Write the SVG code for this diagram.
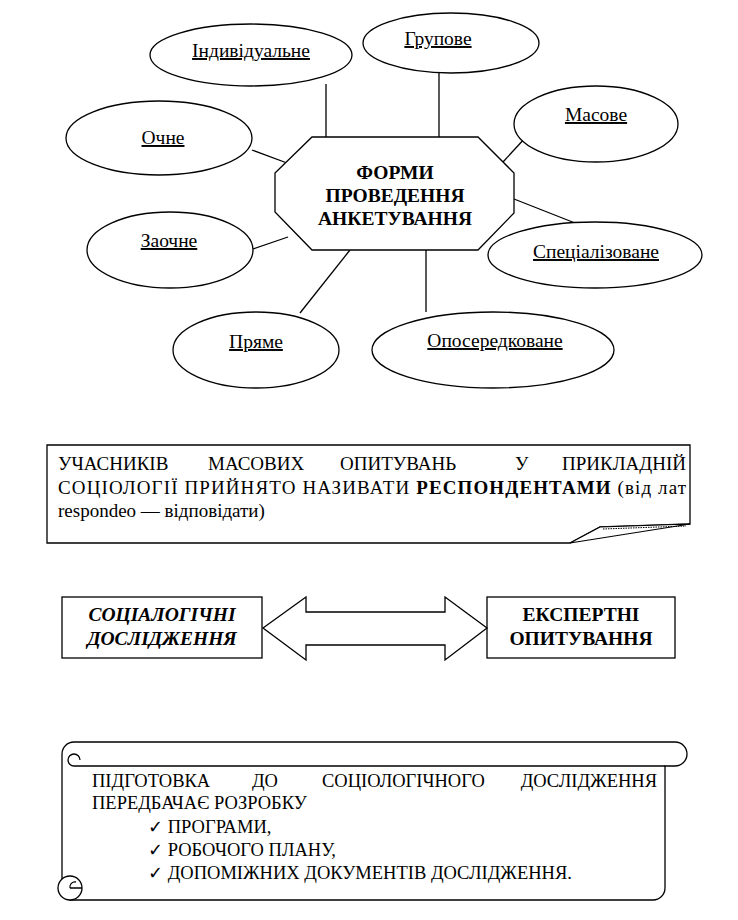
<svg xmlns="http://www.w3.org/2000/svg" width="738" height="920" viewBox="0 0 738 920" font-family="'Liberation Serif', 'DejaVu Serif', serif">
<style>
  .e { fill: #fff; stroke: #000; stroke-width: 1.3; }
  .s { fill: none; stroke: #000; stroke-width: 1.3; }
  .f { fill: #fff; stroke: #000; stroke-width: 1.3; }
  text { font-family: 'Liberation Serif', 'DejaVu Serif', serif; fill: #000; }
  .lbl { font-size: 19.5px; text-anchor: middle; text-decoration: underline; }
  .ctr { font-size: 19.5px; font-weight: bold; text-anchor: middle; }
  .t { font-size: 19px; }
  .sc { font-size: 18.5px; }
  .ck { font-family: 'DejaVu Sans', sans-serif; font-size: 18px; }
</style>
<rect width="738" height="920" fill="#fff"/>

<g id="connectors" class="s">
  <line x1="326" y1="84" x2="326" y2="137"/>
  <line x1="439" y1="72" x2="439" y2="137"/>
  <line x1="526" y1="137" x2="503" y2="162"/>
  <line x1="252" y1="150" x2="287" y2="163"/>
  <line x1="253" y1="249" x2="288" y2="237"/>
  <line x1="350" y1="250" x2="300" y2="313"/>
  <line x1="426" y1="250" x2="426" y2="312"/>
  <line x1="514" y1="199" x2="575" y2="223"/>
</g>

<g id="center">
  <polygon class="f" points="312,137 478,137 514,173 514,213 478,250 312,250 275,212 275,173"/>
  <text class="ctr" x="395" y="179">ФОРМИ</text>
  <text class="ctr" x="395" y="202">ПРОВЕДЕННЯ</text>
  <text class="ctr" x="395" y="225">АНКЕТУВАННЯ</text>
</g>

<g id="n-individ">
  <ellipse class="e" cx="251" cy="55" rx="101" ry="31"/>
  <text class="lbl" x="251" y="57">Індивідуальне</text>
</g>
<g id="n-grup">
  <ellipse class="e" cx="451" cy="43" rx="88" ry="30"/>
  <text class="lbl" x="438" y="45">Групове</text>
</g>
<g id="n-masove">
  <ellipse class="e" cx="596" cy="124" rx="82" ry="38"/>
  <text class="lbl" x="596" y="121">Масове</text>
</g>
<g id="n-ochne">
  <ellipse class="e" cx="159" cy="138" rx="93" ry="37"/>
  <text class="lbl" x="163" y="144">Очне</text>
</g>
<g id="n-zaochne">
  <ellipse class="e" cx="170" cy="250" rx="83" ry="38"/>
  <text class="lbl" x="169" y="247">Заочне</text>
</g>
<g id="n-special">
  <ellipse class="e" cx="595" cy="255" rx="107" ry="33"/>
  <text class="lbl" x="596" y="258">Спеціалізоване</text>
</g>
<g id="n-pryame">
  <ellipse class="e" cx="256" cy="350" rx="83" ry="38"/>
  <text class="lbl" x="256" y="348">Пряме</text>
</g>
<g id="n-oposer">
  <ellipse class="e" cx="493" cy="350" rx="121" ry="38"/>
  <text class="lbl" x="495" y="347">Опосередковане</text>
</g>

<g id="note-respondents">
  <path class="s" d="M 47,445 H 690 V 524 L 600,527 L 570,543 H 47 Z"/>
  <path d="M 570,543 L 600,527 L 690,524 Z" fill="#fff" stroke="#000" stroke-width="1.1"/>
  <line x1="603" y1="529" x2="686" y2="526" stroke="#000" stroke-width="1" stroke-dasharray="1.5,1"/>
  <text class="t" y="470">
    <tspan x="58">УЧАСНИКІВ</tspan>
    <tspan x="208">МАСОВИХ</tspan>
    <tspan x="340">ОПИТУВАНЬ</tspan>
    <tspan x="515">У</tspan>
  </text>
  <text class="t" x="686" y="470" text-anchor="end">ПРИКЛАДНІЙ</text>
  <text class="t" x="58" y="494" textLength="628" lengthAdjust="spacing">СОЦІОЛОГІЇ ПРИЙНЯТО НАЗИВАТИ <tspan font-weight="bold">РЕСПОНДЕНТАМИ</tspan> (від лат</text>
  <text class="t" x="58" y="517">respondeo — відповідати)</text>
</g>

<g id="n-soc">
  <rect class="f" x="62" y="597" width="200" height="61"/>
  <text class="ctr" x="162" y="621" font-style="italic">СОЦІАЛОГІЧНІ</text>
  <text class="ctr" x="162" y="645" font-style="italic">ДОСЛІДЖЕННЯ</text>
</g>
<g id="n-expert">
  <rect class="f" x="487" y="597" width="188" height="61"/>
  <text class="ctr" x="581" y="621">ЕКСПЕРТНІ</text>
  <text class="ctr" x="581" y="645">ОПИТУВАННЯ</text>
</g>
<g id="double-arrow">
  <polygon class="f" points="263,628 306,597 306,612 445,612 445,597 487,628 445,660 445,645 306,645 306,660"/>
</g>

<g id="scroll">
  <path class="f" d="M 74,742 H 675 A 12 12 0 0 1 675,766 H 665 V 888 A 12 12 0 0 1 653,900 H 70 A 12 12 0 0 1 62,888 V 754 A 12 12 0 0 1 74,742 Z"/>
  <path class="s" d="M 74,766 H 665"/>
  <path class="s" d="M 74,766 A 6 6 0 0 1 74,754 A 6 6 0 0 1 80,760"/>
  <circle class="f" cx="70" cy="888" r="12"/>
  <path class="s" d="M 70,888 A 5 5 0 0 1 76,882 M 70,888 H 82"/>
  <text class="t sc" y="787">
    <tspan x="92">ПІДГОТОВКА</tspan>
    <tspan x="252">ДО</tspan>
    <tspan x="322">СОЦІОЛОГІЧНОГО</tspan>
  </text>
  <text class="t sc" x="657" y="787" text-anchor="end">ДОСЛІДЖЕННЯ</text>
  <text class="t sc" x="92" y="809">ПЕРЕДБАЧАЄ РОЗРОБКУ</text>
  <text class="t sc" x="148" y="833"><tspan class="ck">✓</tspan> ПРОГРАМИ,</text>
  <text class="t sc" x="148" y="856"><tspan class="ck">✓</tspan> РОБОЧОГО ПЛАНУ,</text>
  <text class="t sc" x="148" y="879"><tspan class="ck">✓</tspan> ДОПОМІЖНИХ ДОКУМЕНТІВ ДОСЛІДЖЕННЯ.</text>
</g>
</svg>
